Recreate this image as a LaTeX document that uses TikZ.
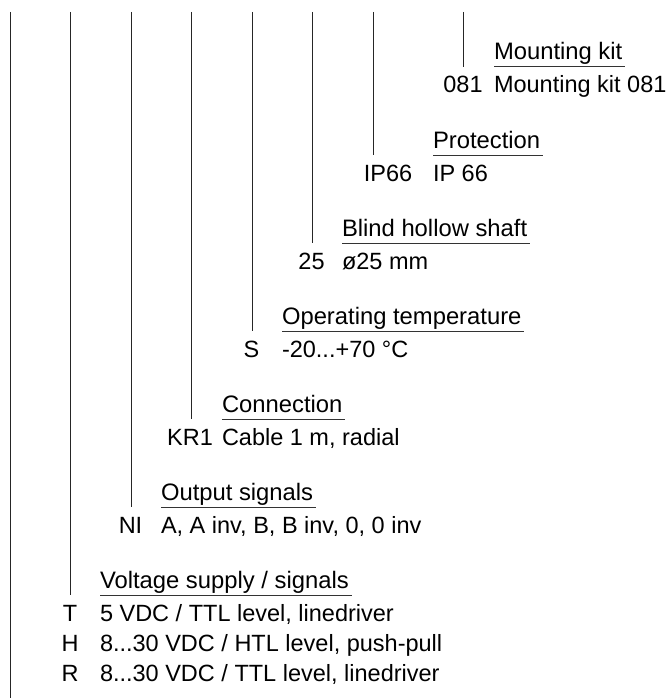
\documentclass[tikz,border=0pt]{standalone}
\usepackage{fontspec}
\setmainfont{Liberation Sans}
\begin{document}
\begin{tikzpicture}[x=1pt,y=-1pt,
  txt/.style={inner sep=0pt, outer sep=0pt, font=\fontsize{23.5}{28}\selectfont, text=black},
  codetxt/.style={txt, anchor=base},
  desctxt/.style={txt, anchor=base west},
  headtxt/.style={txt, anchor=base west, font=\fontsize{23.8}{28}\selectfont},
  ln/.style={line width=1pt, draw=black!85},
  uline/.style={line width=1pt, draw=black!80}]
\useasboundingbox (0,0) rectangle (667,698);

% left-most line
\coordinate (t8) at (10,12);
\coordinate (b8) at (10,698);
\draw[ln] (t8) -- (b8);

% group 0: Mounting kit (underline y = 67)
\coordinate (t0) at (463,12); \coordinate (b0) at (463,67);
\draw[ln] (t0) -- (b0);
\node[headtxt] (h0) at (494,60) {Mounting kit};
\node[codetxt] (c0) at (463,93) {081};
\node[desctxt] (d0) at (494,93) {Mounting kit 081};
\draw[uline] (494,67) -- ([xshift=3pt]h0.base east |- 0,67);

% group 1: Protection (155)
\coordinate (t1) at (373,12); \coordinate (b1) at (373,155);
\draw[ln] (t1) -- (b1);
\node[headtxt] (h1) at (433,148) {Protection};
\node[codetxt] (c1) at (388,181) {IP66};
\node[desctxt] (d1) at (433,181) {IP 66};
\draw[uline] (433,155) -- ([xshift=3pt]h1.base east |- 0,155);

% group 2: Blind hollow shaft (243)
\coordinate (t2) at (312,12); \coordinate (b2) at (312,243);
\draw[ln] (t2) -- (b2);
\node[headtxt] (h2) at (342,236) {Blind hollow shaft};
\node[codetxt] (c2) at (311.5,269) {25};
\node[desctxt] (d2) at (342,269) {ø25 mm};
\draw[uline] (342,243) -- ([xshift=3pt]h2.base east |- 0,243);

% group 3: Operating temperature (331)
\coordinate (t3) at (252,12); \coordinate (b3) at (252,331);
\draw[ln] (t3) -- (b3);
\node[headtxt] (h3) at (282,324) {Operating temperature};
\node[codetxt] (c3) at (251.5,357) {S};
\node[desctxt] (d3) at (282,357) {-20...+70 °C};
\draw[uline] (282,331) -- ([xshift=3pt]h3.base east |- 0,331);

% group 4: Connection (419)
\coordinate (t4) at (191,12); \coordinate (b4) at (191,419);
\draw[ln] (t4) -- (b4);
\node[headtxt] (h4) at (222,412) {Connection};
\node[codetxt] (c4) at (190,445) {KR1};
\node[desctxt] (d4) at (222,445) {Cable 1 m, radial};
\draw[uline] (222,419) -- ([xshift=3pt]h4.base east |- 0,419);

% group 5: Output signals (507)
\coordinate (t5) at (131,12); \coordinate (b5) at (131,507);
\draw[ln] (t5) -- (b5);
\node[headtxt] (h5) at (161,500) {Output signals};
\node[codetxt] (c5) at (130.5,533) {NI};
\node[desctxt] (d5) at (161,533) {A, A inv, B, B inv, 0, 0 inv};
\draw[uline] (161,507) -- ([xshift=3pt]h5.base east |- 0,507);

% group 6: Voltage supply / signals (595)
\coordinate (t6) at (70,12); \coordinate (b6) at (70,595);
\draw[ln] (t6) -- (b6);
\node[headtxt] (h6) at (100,588) {Voltage supply / signals};
\node[codetxt] (c6a) at (70,621) {T};
\node[desctxt] (d6a) at (100,621) {5 VDC / TTL level, linedriver};
\node[codetxt] (c6b) at (70,651) {H};
\node[desctxt] (d6b) at (100,651) {8...30 VDC / HTL level, push-pull};
\node[codetxt] (c6c) at (70,681) {R};
\node[desctxt] (d6c) at (100,681) {8...30 VDC / TTL level, linedriver};
\draw[uline] (100,595) -- ([xshift=3pt]h6.base east |- 0,595);
\end{tikzpicture}
\end{document}
